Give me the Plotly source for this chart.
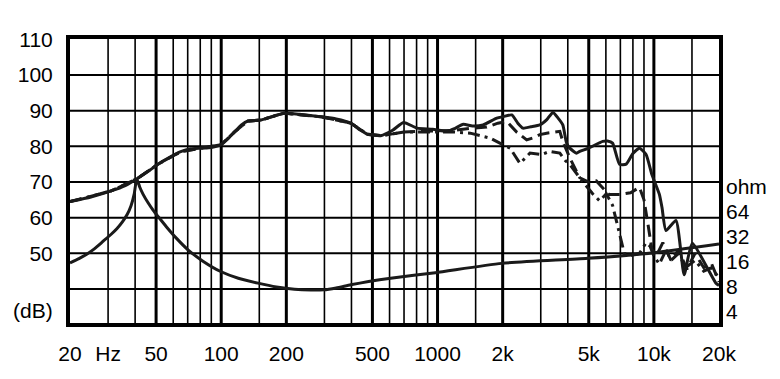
import math
import plotly.graph_objects as go

# ---------------- data ----------------
# SPL, solid curve (Hz, dB)
spl_f = [20, 25, 31, 36, 41, 46, 51, 58, 65, 72, 81, 90, 100, 107, 115, 124, 133, 153, 175, 195,
         230, 289, 340, 397, 441, 474, 546, 620, 696, 805, 950, 1106, 1200, 1315, 1450, 1624,
         1879, 2000, 2203, 2350, 2482, 2700, 2972, 3200, 3412, 3600, 3793, 3945, 4087, 4386,
         4543, 5000, 5798, 6100, 6442, 6937, 7448, 8000, 8577, 9204, 9800, 10594, 10900, 11372,
         12648, 13800, 15032, 19320, 20000]
spl_db = [64.5, 65.8, 67.5, 69, 71, 73, 75, 77, 78.5, 79.3, 79.5, 79.7, 80.5, 82, 84, 86, 87.1, 87.4, 88.5, 89.3,
          89, 88.3, 87.7, 86.5, 84.5, 83.4, 83, 84.5, 86.7, 85.1, 84.8, 84.2, 85, 86.2, 85.7, 86,
          87.9, 88.3, 88.8, 86.5, 85.1, 85.5, 86, 87.5, 89.5, 88, 86, 81, 79.5, 78.1,
          78.6, 79.5, 81.4, 81.5, 80.9, 75, 75, 78, 79.5, 77.7, 72, 66.6, 62.9, 56.4,
          59.2, 44, 52.8, 41.7, 41]

# SPL, dashed curve (Hz, dB)
dash_f = [20, 31, 41, 51, 65, 81, 100, 115, 133, 153, 195, 289, 397, 474, 546, 620, 700, 800, 1000,
          1200, 1400, 1690, 1900, 2089, 2322, 2582, 2800, 2972, 3192, 3412, 3675, 3793, 4087, 4543,
          5000, 5420, 5798, 6200, 7000, 7800, 8577, 9000, 9400, 9800, 10300, 11000, 12000, 13000,
          14200, 15500, 17000, 18500, 20000]
dash_db = [64.5, 67.5, 71, 75, 78.5, 79.5, 80.5, 84, 87.1, 87.4, 89.3, 88.3, 86.5, 83.4, 83, 83.5, 84, 84.2, 84.3,
           84.5, 85, 85.4, 86.5, 87, 84, 81.8, 82.5, 83.3, 83.7, 84, 84.2, 81.4, 76.75, 71.2,
           70, 70.3, 68.5, 66.5, 66.5, 67, 68.5, 65, 58, 51, 49.5, 53, 48, 51,
           45.5, 50, 46, 47, 42]

# SPL, dash-dot curve (Hz, dB)
dd_f = [20, 31, 41, 51, 65, 81, 100, 115, 133, 153, 195, 289, 397, 474, 546, 620, 700, 800, 1000,
        1200, 1416, 1750, 2000, 2164, 2300, 2405, 2675, 3026, 3304, 3675, 3900, 4087, 4543, 5212,
        5616, 6026, 6442, 6937, 7300, 7700, 8577, 9204, 9600, 10048, 10600, 11400, 12000, 13000,
        14000, 15500, 17000, 18500, 20000]
dd_db = [64.5, 67.5, 71, 75, 78.5, 79.5, 80.5, 84, 87.1, 87.4, 89.3, 88.3, 86.5, 83.4, 83, 83.5, 84, 84, 84,
         84, 83.7, 82.3, 80.5, 79.5, 77, 75.2, 78.1, 77.7, 78.6, 78.1, 76, 74.9, 71.2, 66.7,
         64.7, 66.7, 63.5, 55, 50, 49.4, 50, 53, 52, 49, 47, 51, 48, 50,
         46, 48, 45, 46, 43]

# Impedance (Hz, ohm)
imp_f = [20, 22, 24, 26, 28.5, 31, 33, 35, 36.8, 38.3, 39.6, 40.7, 42, 43.5, 46, 48.5, 51.2, 56, 62,
         70.4, 82, 100, 120, 148, 180, 218, 260, 298, 340, 397, 480, 607,
         977, 1981, 4943, 10048, 20000]
imp_ohm = [15.6, 17.6, 20, 23.2, 28.5, 34.5, 40.5, 49, 60, 76, 105, 160, 128, 105, 82, 67, 56, 42, 31,
           22.3, 16.5, 12.2, 10.2, 8.9, 8.0, 7.5, 7.35, 7.4, 7.8, 8.5, 9.3, 10.2,
           11.9, 15.4, 17.7, 20.7, 26.3]

# axes ticks
x_tickvals = [20, 30, 50, 100, 200, 500, 1000, 2000, 5000, 10000, 20000]
x_ticktext = ["20", "Hz", "50", "100", "200", "500", "1000", "2k", "5k", "10k", "20k"]
y_tickvals = [34, 50, 60, 70, 80, 90, 100, 110]
y_ticktext = ["(dB)", "50", "60", "70", "80", "90", "100", "110"]
z_tickvals = [4, 8, 16, 32, 64, 128]
z_ticktext = ["4", "8", "16", "32", "64", "ohm"]

# grid
grid_thin_f = [30, 40, 60, 70, 80, 90, 150, 300, 400, 600, 700, 800, 900, 1500,
               3000, 4000, 6000, 7000, 8000, 9000, 15000]
grid_thick_f = [50, 100, 200, 500, 1000, 2000, 5000, 10000]
grid_db = [40, 50, 60, 70, 80, 90, 100]

Y_MIN, Y_MAX = 30.47, 110.1
F_MIN, F_MAX = 20, 20000
Z_RANGE = [0.4695, 3.889]

FONT = "Liberation Sans, Arial, sans-serif"

def vlines(fs):
    xs, ys = [], []
    for f in fs:
        xs += [f, f, None]
        ys += [Y_MIN, Y_MAX, None]
    return xs, ys

def hlines(ds):
    xs, ys = [], []
    for d in ds:
        xs += [F_MIN, F_MAX, None]
        ys += [d, d, None]
    return xs, ys

fig = go.Figure()

gx, gy = vlines(grid_thin_f)
fig.add_trace(go.Scatter(x=gx, y=gy, mode="lines", line=dict(color="black", width=1.6),
                         hoverinfo="skip", showlegend=False))
gx, gy = vlines(grid_thick_f)
fig.add_trace(go.Scatter(x=gx, y=gy, mode="lines", line=dict(color="black", width=3),
                         hoverinfo="skip", showlegend=False))
gx, gy = hlines(grid_db)
fig.add_trace(go.Scatter(x=gx, y=gy, mode="lines", line=dict(color="black", width=2),
                         hoverinfo="skip", showlegend=False))

fig.add_trace(go.Scatter(x=dd_f, y=dd_db, mode="lines",
                         line=dict(color="#1a1a1a", width=3, dash="12px,5px,3px,5px"),
                         showlegend=False))
fig.add_trace(go.Scatter(x=dash_f, y=dash_db, mode="lines",
                         line=dict(color="#1a1a1a", width=3, dash="12px,6px"),
                         showlegend=False))
fig.add_trace(go.Scatter(x=spl_f, y=spl_db, mode="lines",
                         line=dict(color="#1a1a1a", width=3, shape="spline", smoothing=0.5),
                         showlegend=False))
fig.add_trace(go.Scatter(x=imp_f, y=imp_ohm, mode="lines", yaxis="y2",
                         line=dict(color="#1a1a1a", width=3, shape="spline", smoothing=0.6),
                         showlegend=False))

# page body has an 8px margin: figure is placed at (8, 8) in the window
fig.update_layout(
    template="none",
    width=772, height=371,
    margin=dict(l=62, r=61, t=31, b=56, pad=0, autoexpand=False),
    paper_bgcolor="white", plot_bgcolor="white",
    font=dict(family=FONT, size=21, color="black"),
    showlegend=False,
    xaxis=dict(type="log", range=[math.log10(F_MIN), math.log10(F_MAX)], automargin=False,
               showgrid=False, zeroline=False, showline=True, linecolor="black", linewidth=4,
               mirror=True, tickmode="array", tickvals=x_tickvals, ticktext=x_ticktext,
               ticks="", ticklabelstandoff=9),
    yaxis=dict(range=[Y_MIN, Y_MAX], automargin=False, showgrid=False, zeroline=False,
               showline=True, linecolor="black", linewidth=4, mirror=True, tickmode="array",
               tickvals=y_tickvals, ticktext=y_ticktext, ticks="", ticklabelstandoff=9),
    yaxis2=dict(type="log", overlaying="y", side="right", automargin=False,
                range=Z_RANGE, showgrid=False, zeroline=False, showline=False,
                tickmode="array", tickvals=z_tickvals, ticktext=z_ticktext, ticks="",
                ticklabelstandoff=6),
)

fig.write_html("out.html")
